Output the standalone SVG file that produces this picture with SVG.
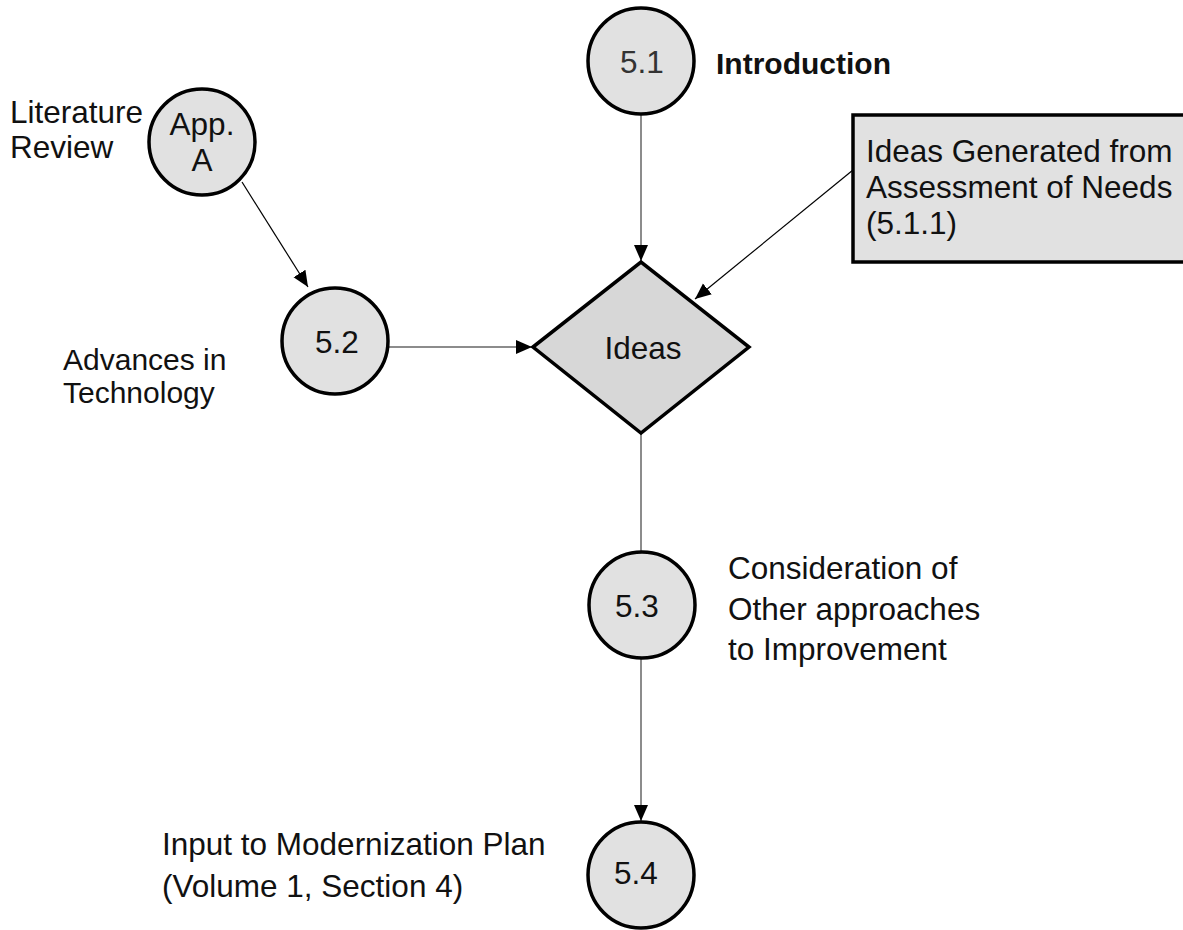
<svg xmlns="http://www.w3.org/2000/svg" width="1183" height="930" viewBox="0 0 1183 930">
  <style>
    .node { fill: #e1e1e1; stroke: #000; stroke-width: 3.5; }
    .dia { fill: #d7d7d7; stroke: #000; stroke-width: 3.5; }
    .t { font-family: "Liberation Sans", Arial, sans-serif; font-size: 31.5px; fill: #111; }
    .s { font-size: 30px; }
    .c { text-anchor: middle; }
    .b { font-weight: bold; font-size: 30px; }
    .link { stroke: #000; stroke-width: 1.2; fill: none; }
    .link.g { stroke: #666; stroke-width: 1.5; }
  </style>
  <defs>
    <marker id="arrow" markerUnits="userSpaceOnUse" markerWidth="17" markerHeight="15" refX="16" refY="7" orient="auto">
      <path d="M0,0 L16,7 L0,14 z" fill="#000"/>
    </marker>
  </defs>

  <!-- connectors -->
  <g id="connectors">
    <line class="link" x1="242" y1="182" x2="308" y2="287" marker-end="url(#arrow)"/>
    <line class="link g" x1="641" y1="115" x2="641" y2="261" marker-end="url(#arrow)"/>
    <line class="link" x1="853" y1="170" x2="695" y2="299" marker-end="url(#arrow)"/>
    <line class="link g" x1="389" y1="347" x2="532" y2="347" marker-end="url(#arrow)"/>
    <line class="link g" x1="641" y1="433" x2="641" y2="551"/>
    <line class="link g" x1="641" y1="658" x2="641" y2="821" marker-end="url(#arrow)"/>
  </g>

  <!-- App. A: literature review -->
  <g id="node-appA">
    <circle class="node" cx="202" cy="142" r="53"/>
    <text class="t c" x="202" y="135">App.</text>
    <text class="t c" x="202" y="171">A</text>
    <text class="t" x="10" y="123">Literature</text>
    <text class="t" x="10" y="158">Review</text>
  </g>

  <!-- 5.1 Introduction -->
  <g id="node-5-1">
    <circle class="node" cx="641" cy="61" r="53"/>
    <text class="t c" x="642" y="73" style="fill:#333">5.1</text>
    <text class="t b" x="716" y="74">Introduction</text>
  </g>

  <!-- Assessment of needs box -->
  <g id="node-needs">
    <rect class="node" x="853" y="115" width="345" height="147"/>
    <text class="t" x="866" y="162">Ideas Generated from</text>
    <text class="t" x="866" y="198">Assessment of Needs</text>
    <text class="t" x="866" y="234">(5.1.1)</text>
  </g>

  <!-- 5.2 Advances in Technology -->
  <g id="node-5-2">
    <circle class="node" cx="335" cy="341" r="53"/>
    <text class="t c" x="337" y="353">5.2</text>
    <text class="t s" x="63" y="370">Advances in</text>
    <text class="t s" x="63" y="403">Technology</text>
  </g>

  <!-- Ideas decision -->
  <g id="node-ideas">
    <polygon class="dia" points="533,347 641,262 749,347 641,433"/>
    <text class="t c" x="643" y="359">Ideas</text>
  </g>

  <!-- 5.3 Other approaches -->
  <g id="node-5-3">
    <circle class="node" cx="642" cy="605" r="53"/>
    <text class="t c" x="637" y="617">5.3</text>
    <text class="t" x="728" y="579">Consideration of</text>
    <text class="t" x="728" y="620">Other approaches</text>
    <text class="t" x="728" y="660">to Improvement</text>
  </g>

  <!-- 5.4 Modernization plan input -->
  <g id="node-5-4">
    <circle class="node" cx="641" cy="875" r="53"/>
    <text class="t c" x="636" y="884">5.4</text>
    <text class="t" x="162" y="855">Input to Modernization Plan</text>
    <text class="t" x="162" y="897">(Volume 1, Section 4)</text>
  </g>
</svg>
